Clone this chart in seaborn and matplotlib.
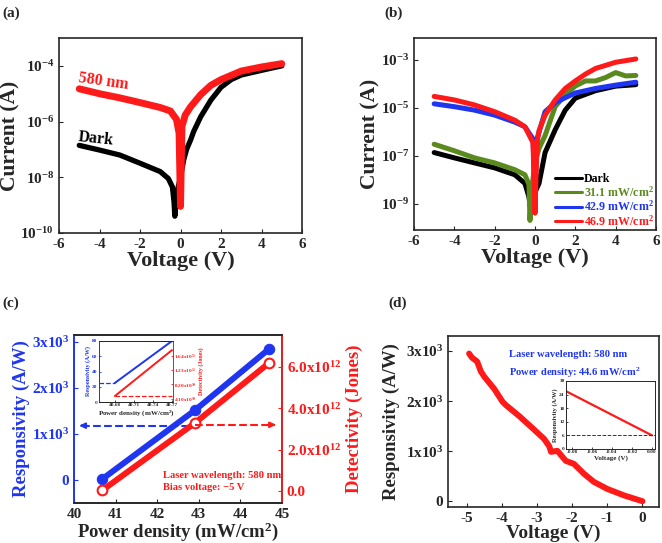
import matplotlib
matplotlib.use('Agg')
import matplotlib.pyplot as plt
import seaborn as sns

# ---------------- data ----------------
# (a) I-V curves, dark vs 580 nm
volt_a_dark = [-5, -4, -3, -2, -1, -0.6, -0.4, -0.32, -0.28, -0.2, 0.0, 0.15, 0.3, 0.5, 0.65,
               1.0, 1.5, 2.0, 2.5, 3.0, 4.0, 5.0]
curr_a_dark = [1.4e-7, 9.5e-8, 6.3e-8, 3.2e-8, 1.6e-8, 9e-9, 4.5e-9, 1.3e-9, 4e-10, 2.5e-9, 1e-8,
               4e-8, 1e-7, 2.2e-7, 4.4e-7, 1.5e-6, 5.9e-6, 1.7e-5, 3.2e-5, 4.7e-5, 6.9e-5, 1.0e-4]
volt_a_light = [-5, -4, -3, -2, -1, -0.5, -0.2, -0.07, 0.0, 0.07, 0.23, 0.5, 1.0, 1.5, 2.0, 3.0, 4.0, 5.0]
curr_a_light = [1.5e-5, 1.0e-5, 7.1e-6, 4.8e-6, 3.2e-6, 2.4e-6, 1.2e-6, 3.8e-7, 9e-10, 6.6e-7,
                1.7e-6, 3.4e-6, 9.3e-6, 2.0e-5, 3.2e-5, 6.5e-5, 9.1e-5, 1.2e-4]

# (b) I-V curves at different power densities
volt_b_dark = [-5, -4, -3, -2, -1, -0.5, -0.3, -0.2, 0.0, 0.2, 0.5, 1.0, 1.5, 2.0, 3.0, 4.0, 5.0]
curr_b_dark = [1.35e-7, 8.1e-8, 5e-8, 3.1e-8, 1.6e-8, 7e-9, 1.9e-9, 5e-10, 3e-9, 7e-9, 1.35e-7,
               1.2e-6, 7.9e-6, 2.5e-5, 5.1e-5, 7.9e-5, 9.1e-5]
volt_b_31 = [-5, -4, -3, -2, -1, -0.5, -0.3, -0.25, -0.15, 0.0, 0.2, 0.5, 1.0, 1.5, 2.0, 2.5,
             3.0, 3.5, 4.0, 4.5, 5.0]
curr_b_31 = [3.0e-7, 1.6e-7, 8.1e-8, 5e-8, 2.6e-8, 1.6e-8, 6.3e-9, 2e-10, 5e-9, 5e-8, 2e-7, 6.9e-7,
             1.1e-5, 3.5e-5, 8e-5, 1.3e-4, 1.3e-4, 1.8e-4, 2.9e-4, 2.1e-4, 2.2e-4]
volt_b_42 = [-5, -4, -3, -2, -1, -0.5, -0.1, 0.0, 0.1, 0.5, 1.0, 1.5, 2.0, 3.0, 4.0, 5.0]
curr_b_42 = [1.45e-5, 1.1e-5, 7.9e-6, 4.9e-6, 2.5e-6, 1.6e-6, 5e-7, 3e-9, 5e-7, 6.8e-6, 1.6e-5,
             2.6e-5, 4.1e-5, 6.3e-5, 8.7e-5, 1.15e-4]
volt_b_46 = [-5, -4, -3, -2, -1, -0.5, -0.1, 0.0, 0.1, 0.2, 0.5, 1.0, 1.5, 2.0, 2.5, 3.0, 4.0, 5.0]
curr_b_46 = [2.95e-5, 2.1e-5, 1.3e-5, 6.8e-6, 3.0e-6, 1.6e-6, 3.5e-7, 4e-10, 3.5e-7, 1.1e-6,
             4.9e-6, 2.1e-5, 6.3e-5, 1.3e-4, 2.5e-4, 4.3e-4, 7.8e-4, 1.07e-3]
labels_b = ['Dark', '31.1 mW/cm$^2$', '42.9 mW/cm$^2$', '46.9 mW/cm$^2$']

# (c) responsivity / detectivity vs power density
power_c = [40.68, 42.9, 44.68]
resp_c = [20, 1510, 2840]
det_c = [0.05e12, 3.28e12, 6.16e12]
resp_arrow = 1180
det_arrow = 3.2e12
# (c) inset
power_ci = [40.68, 40.77]
resp_ci = [25, 80]
det_ci = [4.9e10, 1.8e11]
resp_ci_dash = 25
det_ci_dash = 4.9e10

# (d) responsivity vs voltage
volt_d = [-4.93, -4.85, -4.7, -4.6, -4.5, -4.22, -3.98, -3.88, -3.5, -3.17, -2.8, -2.65, -2.6,
          -2.42, -2.18, -1.95, -1.66, -1.38, -1.0, -0.52, 0.0]
resp_d = [2950, 2870, 2790, 2600, 2490, 2250, 1990, 1920, 1700, 1490, 1250, 1100, 990,
          1010, 810, 750, 550, 390, 250, 120, 5]
# (d) inset
volt_di = [-0.086, 0.0]
resp_di = [25.5, 6]
resp_di_dash = 6

# ---------------- style ----------------
sns.set_style('ticks')
plt.rcParams['font.family'] = ['Liberation Serif', 'DejaVu Serif']
plt.rcParams['font.weight'] = 'bold'
plt.rcParams['axes.labelweight'] = 'bold'
plt.rcParams['mathtext.fontset'] = 'custom'
plt.rcParams['mathtext.rm'] = 'Liberation Serif:bold'
plt.rcParams['mathtext.bf'] = 'Liberation Serif:bold'
plt.rcParams['mathtext.it'] = 'Liberation Serif:bold:italic'
plt.rcParams['mathtext.default'] = 'rm'
plt.rcParams['axes.unicode_minus'] = False
plt.rcParams['xtick.direction'] = 'in'
plt.rcParams['ytick.direction'] = 'in'
plt.rcParams['axes.linewidth'] = 1.2

RED = '#ff1a1a'
BLUE = '#1f35f0'
GREEN = '#5a8a1e'
BLACK = '#000000'

W, H = 662, 543
fig = plt.figure(figsize=(W / 100, H / 100), dpi=100)


def box(left, top, right, bottom):
    return [left / W, 1 - bottom / H, (right - left) / W, (bottom - top) / H]


def line(ax, x, y, color, lw, **kw):
    sns.lineplot(x=x, y=y, ax=ax, color=color, lw=lw, sort=False, estimator=None,
                 solid_capstyle='round', solid_joinstyle='round', **kw)


# ---------------- (a) ----------------
ax_a = fig.add_axes(box(59, 38, 302, 233))
line(ax_a, volt_a_dark, curr_a_dark, BLACK, 3.8)
line(ax_a, volt_a_light, curr_a_light, RED, 5.0)
ax_a.set_yscale('log')
ax_a.set_ylim(1e-10, 1e-3)
ax_a.set_xlim(-6, 6)
ax_a.set_xticks(range(-6, 7, 2))
ax_a.set_yticks([1e-10, 1e-8, 1e-6, 1e-4], ['10$^{-10}$', '10$^{-8}$', '10$^{-6}$', '10$^{-4}$'])
ax_a.minorticks_off()
ax_a.tick_params(labelsize=11, length=3)
ax_a.set_xlabel('Voltage (V)', fontsize=16, labelpad=0)
ax_a.set_ylabel('Current (A)', fontsize=15.5, labelpad=0)
ax_a.text(-5.1, 1.5e-5, '580 nm', color=RED, fontsize=11.5, rotation=-8)
ax_a.text(-5.1, 1.5e-7, 'Dark', color=BLACK, fontsize=11.5, rotation=-6)

# ---------------- (b) ----------------
ax_b = fig.add_axes(box(414, 38, 656, 230))
for v, c, col, lab in zip([volt_b_dark, volt_b_31, volt_b_42, volt_b_46],
                          [curr_b_dark, curr_b_31, curr_b_42, curr_b_46],
                          [BLACK, GREEN, BLUE, RED], labels_b):
    line(ax_b, v, c, col, 3.6, label=lab)
ax_b.set_yscale('log')
ax_b.set_ylim(8e-11, 8e-3)
ax_b.set_xlim(-6, 6)
ax_b.set_xticks(range(-6, 7, 2))
ax_b.set_yticks([1e-9, 1e-7, 1e-5, 1e-3], ['10$^{-9}$', '10$^{-7}$', '10$^{-5}$', '10$^{-3}$'])
ax_b.minorticks_off()
ax_b.tick_params(labelsize=11, length=3)
ax_b.set_xlabel('Voltage (V)', fontsize=16, labelpad=0)
ax_b.set_ylabel('Current (A)', fontsize=15.5, labelpad=0)
leg = ax_b.legend(loc='lower right', bbox_to_anchor=(1.02, -0.03), frameon=False, fontsize=8.6,
                  handlelength=2.3, handletextpad=0.15, labelspacing=0.0, borderaxespad=0.2,
                  labelcolor='linecolor')
for h in leg.get_lines():
    h.set_linewidth(2.2)

# ---------------- (c) ----------------
ax_c = fig.add_axes(box(74, 335, 282, 503))
ax_c2 = ax_c.twinx()
line(ax_c, power_c, resp_c, BLUE, 4.3, marker='o', markersize=7.5, markeredgecolor=BLUE)
line(ax_c2, power_c, det_c, RED, 4.3, marker='o', markersize=7, markerfacecolor='white',
     markeredgecolor=RED, markeredgewidth=1.5)
ax_c.set_xlim(40, 45)
ax_c.set_ylim(-500, 3150)
ax_c2.set_ylim(-0.56e12, 7.52e12)
ax_c.set_xticks(range(40, 46))
ax_c.set_yticks([0, 1000, 2000, 3000], ['0', '1x10$^3$', '2x10$^3$', '3x10$^3$'])
ax_c2.set_yticks([0, 2e12, 4e12, 6e12], ['0.0', '2.0x10$^{12}$', '4.0x10$^{12}$', '6.0x10$^{12}$'])
ax_c.tick_params(axis='both', labelsize=11, length=3)
ax_c.tick_params(axis='y', colors=BLUE)
ax_c2.tick_params(axis='y', colors=RED, labelsize=11, length=3)
ax_c.spines['left'].set_color(BLUE)
ax_c2.spines['left'].set_color(BLUE)
ax_c2.spines['right'].set_color(RED)
ax_c.set_xlabel('Power density (mW/cm$^2$)', fontsize=13.5, labelpad=0)
ax_c.set_ylabel('Responsivity (A/W)', fontsize=13.5, color=BLUE, labelpad=1)
ax_c2.set_ylabel('Detectivity (Jones)', fontsize=13.5, color=RED, labelpad=3)
# dashed arrows pointing to the relevant axes
ax_c.hlines(resp_arrow, 40.2, power_c[1], colors=BLUE, linestyles='--', lw=1.5)
ax_c.annotate('', xy=(40.06, resp_arrow), xytext=(40.3, resp_arrow),
              arrowprops=dict(arrowstyle='-|>', color=BLUE, lw=1.5, mutation_scale=8))
ax_c2.hlines(det_arrow, power_c[1], 44.75, colors=RED, linestyles='--', lw=1.5)
ax_c2.annotate('', xy=(44.92, det_arrow), xytext=(44.7, det_arrow),
               arrowprops=dict(arrowstyle='-|>', color=RED, lw=1.5, mutation_scale=8))
ax_c.text(0.43, 0.165, 'Laser wavelength: 580 nm', transform=ax_c.transAxes, color=RED,
          fontsize=7.6, va='center')
ax_c.text(0.43, 0.09, 'Bias voltage: \u22125 V', transform=ax_c.transAxes, color=RED,
          fontsize=7.6, va='center')

# (c) inset
ax_ci = fig.add_axes(box(99, 341, 173, 402))
ax_ci2 = ax_ci.twinx()
line(ax_ci, power_ci, resp_ci, BLUE, 1.4)
line(ax_ci2, power_ci, det_ci, RED, 1.4)
ax_ci.hlines(resp_ci_dash, 40.655, power_ci[0], colors=BLUE, linestyles='--', lw=0.9)
ax_ci2.hlines(det_ci_dash, power_ci[0], power_ci[1], colors=RED, linestyles='--', lw=0.9)
ax_ci.set_xlim(40.655, 40.7716)
ax_ci.set_ylim(0, 80)
ax_ci2.set_ylim(3.2e10, 2.06e11)
ax_ci.set_xticks([40.68, 40.71, 40.74, 40.77])
ax_ci.set_yticks([0, 20, 40, 60, 80])
ax_ci2.set_yticks([4.1e10, 8.2e10, 1.23e11, 1.64e11],
                  ['4.10x10$^{10}$', '8.20x10$^{10}$', '1.23x10$^{11}$', '1.64x10$^{11}$'])
ax_ci.tick_params(labelsize=3.8, length=1.5, pad=1, width=0.6)
ax_ci.tick_params(axis='y', colors=BLUE)
ax_ci2.tick_params(axis='y', colors=RED, labelsize=3.8, length=1.5, pad=1, width=0.6)
for a in (ax_ci, ax_ci2):
    for s in a.spines.values():
        s.set_linewidth(0.7)
ax_ci.spines['left'].set_color(BLUE)
ax_ci2.spines['left'].set_color(BLUE)
ax_ci2.spines['right'].set_color(RED)
ax_ci.set_xlabel('Power density (mW/cm$^2$)', fontsize=5, labelpad=0.5)
ax_ci.set_ylabel('Responsivity (A/W)', fontsize=4.3, color=BLUE, labelpad=1)
ax_ci2.set_ylabel('Detectivity (Jones)', fontsize=4.3, color=RED, labelpad=1)

# ---------------- (d) ----------------
ax_d = fig.add_axes(box(448, 336, 659, 507))
line(ax_d, volt_d, resp_d, RED, 4.3)
ax_d.set_xlim(-5.53, 0.47)
ax_d.set_ylim(-110, 3300)
ax_d.set_xticks(range(-5, 1))
ax_d.set_yticks([0, 1000, 2000, 3000], ['0', '1x10$^3$', '2x10$^3$', '3x10$^3$'])
ax_d.tick_params(labelsize=11, length=3)
ax_d.set_xlabel('Voltage (V)', fontsize=14, labelpad=0)
ax_d.set_ylabel('Responsivity (A/W)', fontsize=13.5, labelpad=4)
ax_d.text(0.29, 0.89, 'Laser wavelength: 580 nm', transform=ax_d.transAxes, color=BLUE,
          fontsize=7.6, va='center')
ax_d.text(0.29, 0.785, 'Power density: 44.6 mW/cm$^2$', transform=ax_d.transAxes, color=BLUE,
          fontsize=7.6, va='center')

# (d) inset
ax_di = fig.add_axes(box(566, 381, 655, 449))
line(ax_di, volt_di, resp_di, RED, 1.6)
ax_di.axhline(resp_di_dash, color='#333333', ls='--', lw=0.7)
ax_di.set_xlim(-0.086, 0.003)
ax_di.set_ylim(0, 30)
ax_di.set_xticks([-0.08, -0.06, -0.04, -0.02, 0.0], ['-0.08', '-0.06', '-0.04', '-0.02', '0.00'])
ax_di.set_yticks(range(0, 31, 6))
ax_di.tick_params(labelsize=3.8, length=1.5, pad=1, width=0.6)
for s in ax_di.spines.values():
    s.set_linewidth(0.7)
ax_di.set_xlabel('Voltage (V)', fontsize=5, labelpad=0.5)
ax_di.set_ylabel('Responsivity (A/W)', fontsize=4.6, labelpad=1)

# panel labels
for lab, x, y in [('(a)', 2, 13), ('(b)', 384, 13), ('(c)', 2, 303), ('(d)', 388, 303)]:
    fig.text(x / W, 1 - y / H, lab, fontsize=11, va='center', ha='left')

fig.savefig('out.png', dpi=100)
